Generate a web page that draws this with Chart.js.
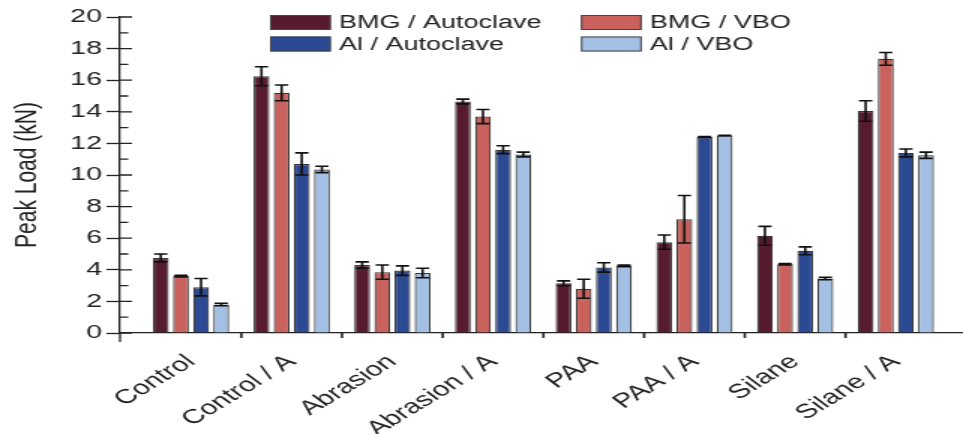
<!DOCTYPE html>
<html>
<head>
<meta charset="utf-8">
<script src="https://cdn.jsdelivr.net/npm/chart.js@4.4.1/dist/chart.umd.min.js"></script>
<style>
  html, body { margin: 0; padding: 0; background: #ffffff; overflow: hidden; }
  /* the figure is laid out narrow and widened horizontally */
  #wrap { width: 642px; height: 434px; transform: scaleX(1.5); transform-origin: 0 0; }
</style>
</head>
<body>
<div id="wrap"><canvas id="chart"></canvas></div>
<script>
const categories = ["Control", "Control / A", "Abrasion", "Abrasion / A", "PAA", "PAA / A", "Silane", "Silane / A"];
const seriesNames = ["BMG / Autoclave", "BMG / VBO", "Al / Autoclave", "Al / VBO"];

const bmgAutoclave    = [4.75, 16.25, 4.30, 14.65, 3.15, 5.75, 6.15, 14.05];
const bmgAutoclaveErr = [0.25, 0.60, 0.20, 0.15, 0.15, 0.45, 0.60, 0.65];
const bmgVbo          = [3.60, 15.20, 3.85, 13.70, 2.80, 7.20, 4.35, 17.35];
const bmgVboErr       = [0.05, 0.50, 0.45, 0.45, 0.60, 1.50, 0.05, 0.40];
const alAutoclave     = [2.90, 10.70, 3.95, 11.60, 4.15, 12.40, 5.20, 11.40];
const alAutoclaveErr  = [0.55, 0.70, 0.30, 0.25, 0.30, 0.03, 0.25, 0.25];
const alVbo           = [1.80, 10.35, 3.80, 11.30, 4.25, 12.50, 3.45, 11.25];
const alVboErr        = [0.08, 0.20, 0.30, 0.15, 0.05, 0.02, 0.08, 0.20];

const yTickValues = [0, 2, 4, 6, 8, 10, 12, 14, 16, 18, 20];

const seriesValues = [bmgAutoclave, bmgVbo, alAutoclave, alVbo];
const seriesErrors = [bmgAutoclaveErr, bmgVboErr, alAutoclaveErr, alVboErr];
const seriesColors = ["#561b2e", "#c9615d", "#2c4993", "#a3c0e4"];

const FONT = "'Liberation Sans', Arial, sans-serif";
const INK = "#222222";

// error bars, axis decorations and the two-column key
const decorations = {
  id: 'decorations',
  afterDatasetsDraw(chart) {
    const ctx = chart.ctx;
    const y = chart.scales.y;
    ctx.save();
    ctx.strokeStyle = "#111111";
    ctx.lineWidth = 1.6;
    chart.data.datasets.forEach((ds, i) => {
      const meta = chart.getDatasetMeta(i);
      meta.data.forEach((bar, j) => {
        const v = ds.data[j].y;
        const e = seriesErrors[i][j];
        const yt = y.getPixelForValue(v + e);
        const yb = y.getPixelForValue(v - e);
        const half = bar.width * 0.42;
        ctx.beginPath();
        ctx.moveTo(bar.x, yt); ctx.lineTo(bar.x, yb);
        ctx.moveTo(bar.x - half, yt); ctx.lineTo(bar.x + half, yt);
        ctx.moveTo(bar.x - half, yb); ctx.lineTo(bar.x + half, yb);
        ctx.stroke();
      });
    });
    ctx.restore();
  },
  afterDraw(chart) {
    const ctx = chart.ctx;
    const {left, bottom} = chart.chartArea;
    const x = chart.scales.x, y = chart.scales.y;
    ctx.save();
    ctx.strokeStyle = INK;
    ctx.lineWidth = 1.3;
    ctx.beginPath();
    // major ticks continue into the plot, minor ticks on odd values
    yTickValues.forEach(v => {
      const py = y.getPixelForValue(v);
      ctx.moveTo(left, py); ctx.lineTo(left + 8, py);
    });
    for (let v = 1; v < 20; v += 2) {
      const py = y.getPixelForValue(v);
      ctx.moveTo(left, py); ctx.lineTo(left + 5.5, py);
    }
    // value axis runs a little below zero
    ctx.moveTo(left, bottom); ctx.lineTo(left, bottom + 9);
    ctx.stroke();
    // separators between groups
    ctx.lineWidth = 1.6;
    ctx.beginPath();
    for (let k = 0; k < categories.length - 1; k++) {
      const px = x.getPixelForValue(k + 0.5);
      ctx.moveTo(px, bottom - 1); ctx.lineTo(px, bottom + 5);
    }
    ctx.stroke();

    // key
    const cols = [180, 387.3];
    const rows = [15, 36.5];
    ctx.font = "18px " + FONT;
    ctx.textBaseline = "middle";
    ctx.textAlign = "left";
    chart.data.datasets.forEach((ds, i) => {
      const bx = cols[i % 2], by = rows[Math.floor(i / 2)];
      ctx.fillStyle = ds.backgroundColor;
      ctx.fillRect(bx, by, 40.5, 15);
      ctx.strokeStyle = "#444444";
      ctx.lineWidth = 1;
      ctx.strokeRect(bx + 0.5, by + 0.5, 39.5, 14);
      ctx.fillStyle = INK;
      ctx.fillText(ds.label, bx + 46, by + 8.5);
    });
    ctx.restore();
  }
};

const datasets = seriesNames.map((name, i) => ({
  label: name,
  data: categories.map((c, j) => ({ x: j, y: seriesValues[i][j] })),
  backgroundColor: seriesColors[i],
  borderColor: "#3a3a3a",
  borderWidth: 1.2,
  categoryPercentage: 0.80,
  barPercentage: 0.785
}));

new Chart(document.getElementById('chart'), {
  type: 'bar',
  data: { datasets },
  plugins: [decorations],
  options: {
    responsive: true,
    maintainAspectRatio: false,
    animation: false,
    layout: { padding: { top: 17, left: 0, right: 0, bottom: 0 } },
    plugins: { legend: { display: false }, tooltip: { enabled: false } },
    scales: {
      x: {
        type: 'linear',
        min: -0.705,
        max: 7.667,
        offset: false,
        afterBuildTicks: s => { s.ticks = categories.map((c, i) => ({ value: i })); },
        afterFit: s => { s.height = 101; },
        grid: { display: false, drawTicks: false },
        border: { display: true, color: INK, width: 1.3 },
        ticks: {
          autoSkip: false,
          minRotation: 42,
          maxRotation: 42,
          padding: 17,
          color: INK,
          font: { family: FONT, size: 20 },
          callback: v => categories[v]
        }
      },
      y: {
        min: 0,
        max: 20,
        afterBuildTicks: s => { s.ticks = yTickValues.map(v => ({ value: v })); },
        afterFit: s => { s.width = 80; },
        grid: { drawOnChartArea: false, tickLength: 9, tickColor: INK, tickWidth: 1.3 },
        border: { display: true, color: INK, width: 1.3 },
        ticks: { padding: 3, color: INK, font: { family: FONT, size: 19 } },
        title: {
          display: true,
          text: 'Peak Load (kN)',
          color: INK,
          font: { family: FONT, size: 21 },
          padding: { top: 6, bottom: 0 }
        }
      }
    }
  }
});
</script>
</body>
</html>
